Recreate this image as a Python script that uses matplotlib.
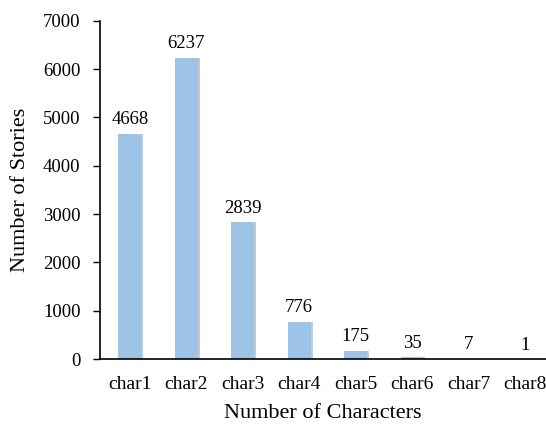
import matplotlib
matplotlib.use("Agg")
import matplotlib.pyplot as plt
import numpy as np

categories = ["char1", "char2", "char3", "char4", "char5", "char6", "char7", "char8"]
stories = [4668, 6237, 2839, 776, 175, 35, 7, 1]

plt.rcParams["font.family"] = ["Liberation Serif", "DejaVu Serif"]

fig = plt.figure(figsize=(5.46, 4.25), dpi=100)
ax = fig.add_axes([0.183, 0.155, 0.817, 0.796])

x = np.arange(len(categories))
w = 0.41
# soft shadow behind bars
ax.bar(x + 0.03, stories, width=w, color="#c8c8c8", zorder=1)
ax.bar(x, stories, width=w, color="#9dc3e6", zorder=2)

for xi, v in zip(x, stories):
    ax.text(xi, v + 110, str(v), ha="center", va="bottom", fontsize=13.5)

ax.set_xlim(-0.53, 7.37)
ax.set_ylim(0, 7000)
ax.set_yticks(range(0, 7001, 1000))
ax.set_xticks(x)
ax.set_xticklabels(categories)
ax.tick_params(axis="y", direction="out", length=5, width=1, labelsize=13.5, pad=9)
ax.tick_params(axis="x", length=0, labelsize=14, pad=12)

ax.spines["top"].set_visible(False)
ax.spines["right"].set_visible(False)
ax.spines["left"].set_linewidth(1.2)
ax.spines["bottom"].set_linewidth(1.2)

ax.set_ylabel("Number of Stories", fontsize=16, labelpad=9)
ax.set_xlabel("Number of Characters", fontsize=16, labelpad=8)

fig.savefig("out.png", dpi=100)
